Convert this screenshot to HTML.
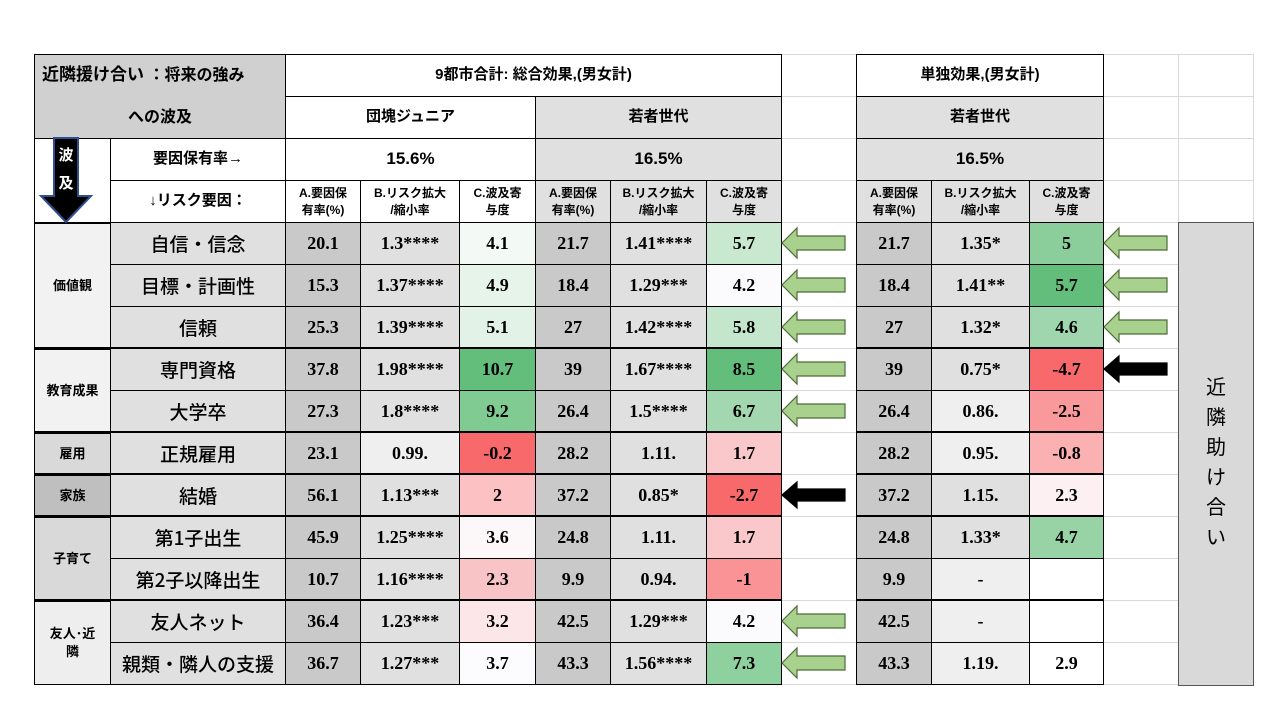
<!DOCTYPE html>
<html><head><meta charset="utf-8">
<style>
body{margin:0;width:1280px;height:720px;background:#fff;position:relative;overflow:hidden;font-family:"Liberation Sans","Noto Sans CJK JP",sans-serif;}
.c{position:absolute;box-sizing:border-box;display:flex;align-items:center;justify-content:center;text-align:center;color:#000;}
.num{font-family:"Liberation Serif","Noto Serif CJK SC",serif;font-weight:bold;font-size:18px;}
.jp{font-family:"Liberation Sans","Noto Sans CJK JP",sans-serif;font-weight:bold;}
.fl{font-family:"Noto Sans CJK JP",sans-serif;font-weight:500;}
</style></head>
<body>
<div id="t"></div>
<svg id="arrows" width="1280" height="720" style="position:absolute;left:0;top:0"></svg>
<script>
const factors=["自信・信念","目標・計画性","信頼","専門資格","大学卒","正規雇用","結婚","第1子出生","第2子以降出生","友人ネット","親類・隣人の支援"];
const groups=[["価値観",0,3],["教育成果",3,2],["雇用",5,1],["家族",6,1],["子育て",7,2],["友人･近\n隣",9,2]];
const jrA=["20.1","15.3","25.3","37.8","27.3","23.1","56.1","45.9","10.7","36.4","36.7"];
const jrB=["1.3****","1.37****","1.39****","1.98****","1.8****","0.99.","1.13***","1.25****","1.16****","1.23***","1.27***"];
const jrC=["4.1","4.9","5.1","10.7","9.2","-0.2","2","3.6","2.3","3.2","3.7"];
const ygA=["21.7","18.4","27","39","26.4","28.2","37.2","24.8","9.9","42.5","43.3"];
const ygB=["1.41****","1.29***","1.42****","1.67****","1.5****","1.11.","0.85*","1.11.","0.94.","1.29***","1.56****"];
const ygC=["5.7","4.2","5.8","8.5","6.7","1.7","-2.7","1.7","-1","4.2","7.3"];
const soA=["21.7","18.4","27","39","26.4","28.2","37.2","24.8","9.9","42.5","43.3"];
const soB=["1.35*","1.41**","1.32*","0.75*","0.86.","0.95.","1.15.","1.33*","-","-","1.19."];
const soC=["5","5.7","4.6","-4.7","-2.5","-0.8","2.3","4.7","","","2.9"];
const arrowsMid=["g","g","g","g","g","","k","","","g","g"];
const arrowsRight=["g","g","g","k","","","","","","",""];
const cCol1=["#f3f9f4","#e6f4e9","#e3f2e6","#63be7b","#7fcb92","#f8696b","#fbc1c3","#fcf8fa","#f9c4c6","#fce6e8","#fcfcff"];
const cCol2=["#c8e8d0","#fbfbfe","#c4e6cc","#63be7b","#a3d7af","#fac8ca","#f8696b","#fac8ca","#f99396","#fbfbfe","#8fd09f"];
const cCol3=["#8bce9c","#63be7b","#a0d6ad","#f8696b","#f9999b","#fbb0b2","#fdf0f2","#98d3a6","#ffffff","#ffffff","#ffffff"];
const T=document.getElementById('t');
const X=[34,110,285,360,459,535,610,706,781,856,931,1029,1103,1178,1253];
const Y0=222,RH=42;
function cell(x1,x2,y1,y2,txt,bg,cls,fs,name,border){
  const d=document.createElement('div');
  d.className='c '+(cls||'');
  d.style.left=x1+'px';d.style.top=y1+'px';d.style.width=(x2-x1+1)+'px';d.style.height=(y2-y1+1)+'px';
  d.style.background=bg;d.style.border=border||'1px solid #000';
  if(fs)d.style.fontSize=fs+'px';
  d.style.whiteSpace='pre-line';d.style.lineHeight='1.35';
  d.textContent=txt;
  
  
  T.appendChild(d);return d;
}
for(let r=0;r<15;r++){const y=54+r*RH;
  cell(781,856,y,y+RH,"","#fff","",0,"grid-gap","1px solid #d9d9d9");
  cell(1103,1178,y,y+RH,"","#fff","",0,"grid-gap","1px solid #d9d9d9");
  if(r<4)cell(1178,1253,y,y+RH,"","#fff","",0,"grid-gap","1px solid #d9d9d9");
}
cell(34,285,54,138,"","#d0d0d0","",0,"table-title-box");
const t1=cell(34,285,54,96,"近隣援け合い ：将来の強み","transparent","jp",16,"table-title-line1","none");
t1.style.justifyContent='flex-start';t1.style.paddingLeft='8px';
T.lastChild.innerHTML='<span style="font-size:17px">近隣援け合い</span>&nbsp;：将来の強み';
cell(34,285,96,138,"への波及","transparent","jp",16,"table-title-line2","none");
cell(285,781,54,96,"9都市合計: 総合効果,(男女計)","#fff","jp",15,"header-total-effect");
cell(856,1103,54,96,"単独効果,(男女計)","#fff","jp",15,"header-single-effect");
cell(285,535,96,138,"団塊ジュニア","#fff","jp",15,"header-dankai-junior");
cell(535,781,96,138,"若者世代","#e0e0e0","jp",15,"header-young");
cell(856,1103,96,138,"若者世代","#e0e0e0","jp",15,"header-young-single");
cell(34,110,138,222,"","#fff","",0,"arrow-box");
cell(110,285,138,180,"要因保有率→","#fff","jp",15,"label-rate");
cell(110,285,180,222,"↓リスク要因：","#fff","jp",15,"label-risk");
cell(285,535,138,180,"15.6%","#fff","jp",17,"rate-dankai");
cell(535,781,138,180,"16.5%","#e0e0e0","jp",17,"rate-young");
cell(856,1103,138,180,"16.5%","#e0e0e0","jp",17,"rate-young-single");
const hd=["A.要因保\n有率(%)","B.リスク拡大\n/縮小率","C.波及寄\n与度"];
[[2,"#fff"],[5,"#e0e0e0"],[9,"#e0e0e0"]].forEach(([s,bg])=>{for(let k=0;k<3;k++)cell(X[s+k],X[s+k+1],180,222,hd[k],bg,"jp",12,"col-header");});
const gbg=["#f2f2f2","#f2f2f2","#d9d9d9","#bfbfbf","#d9d9d9","#eeeeee"];
groups.forEach(([g,s,n],gi)=>{const b=cell(34,110,Y0+s*RH,Y0+(s+n)*RH,g,gbg[gi],"jp",13,"group-label");b.style.borderWidth='2px 1px 1px 1px';});
factors.forEach((f,i)=>{
  const y=Y0+i*RH;
  cell(110,285,y,y+RH,f,"#e0e0e0","fl",19,"factor-label");
  cell(X[2],X[3],y,y+RH,jrA[i],"#c9c9c9","num",0,"dankai-a");
  cell(X[3],X[4],y,y+RH,jrB[i],jrB[i].indexOf('*')<0?"#efefef":"#e0e0e0","num",0,"dankai-b");
  cell(X[4],X[5],y,y+RH,jrC[i],cCol1[i],"num",0,"dankai-c");
  cell(X[5],X[6],y,y+RH,ygA[i],"#c9c9c9","num",0,"young-a");
  cell(X[6],X[7],y,y+RH,ygB[i],"#e0e0e0","num",0,"young-b");
  cell(X[7],X[8],y,y+RH,ygC[i],cCol2[i],"num",0,"young-c");
  cell(X[9],X[10],y,y+RH,soA[i],"#c9c9c9","num",0,"single-a");
  cell(X[10],X[11],y,y+RH,soB[i],(soB[i].indexOf('*')<0&&i!==6)?"#efefef":"#e0e0e0","num",0,"single-b");
  cell(X[11],X[12],y,y+RH,soC[i],cCol3[i],"num",0,"single-c");
});
[3,5,6,7,9].forEach(s=>{const d=document.createElement('div');d.style.cssText=`position:absolute;left:34px;top:${Y0+s*RH-1}px;width:748px;height:2px;background:#000`;

T.appendChild(d);
const e=d.cloneNode();e.style.left='856px';e.style.width='248px';T.appendChild(e);});
const side=cell(1178,1253,222,685,"近\n隣\n助\nけ\n合\nい","#d9d9d9","",20,"side-label","1px solid #555");
side.style.fontFamily='"Noto Sans CJK JP",sans-serif';side.style.lineHeight='1.5';side.style.alignItems='flex-start';side.style.paddingTop='148px';
const S=document.getElementById('arrows');
function arrow(x,i,t){
  const y=Y0+i*RH+21;
  const p=document.createElementNS('http://www.w3.org/2000/svg','polygon');
  const pts=t==='g'?[[x,y],[x+15,y-15],[x+15,y-7],[x+63,y-7],[x+63,y+7],[x+15,y+7],[x+15,y+15]]
                    :[[x,y],[x+15,y-13],[x+15,y-6],[x+63,y-6],[x+63,y+6],[x+15,y+6],[x+15,y+13]];
  p.setAttribute('points',pts.map(q=>q.join(',')).join(' '));
  p.setAttribute('fill',t==='g'?'#a9d18e':'#000');
  p.setAttribute('stroke',t==='g'?'#4e6b38':'#000');
  p.setAttribute('stroke-width','1.2');
  
  
  S.appendChild(p);
}
arrowsMid.forEach((t,i)=>{if(t)arrow(782,i,t);});
arrowsRight.forEach((t,i)=>{if(t)arrow(1104,i,t);});
const da=document.createElementNS('http://www.w3.org/2000/svg','polygon');
da.setAttribute('points','54,138 78,138 78,196 91,196 66,222 41,196 54,196');
da.setAttribute('fill','#000');da.setAttribute('stroke','#2f4f8f');da.setAttribute('stroke-width','2');


S.appendChild(da);
[["波",160],["及",188]].forEach(([t,y])=>{const tx=document.createElementNS('http://www.w3.org/2000/svg','text');
tx.setAttribute('x','66');tx.setAttribute('y',y);tx.setAttribute('fill','#fff');tx.setAttribute('font-size','15');tx.setAttribute('font-weight','bold');tx.setAttribute('text-anchor','middle');tx.setAttribute('font-family','"Noto Sans CJK JP",sans-serif');tx.textContent=t;


S.appendChild(tx);});
</script>
</body></html>
